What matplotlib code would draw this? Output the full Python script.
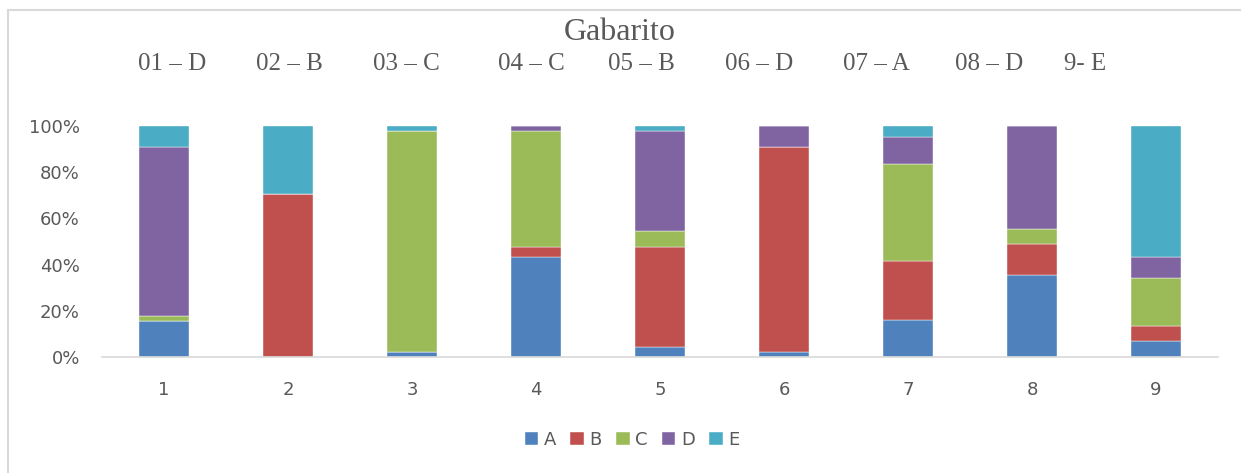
import matplotlib
matplotlib.use("Agg")
import matplotlib.pyplot as plt
import numpy as np
from matplotlib.patches import Rectangle
from matplotlib.ticker import PercentFormatter

questions = [1, 2, 3, 4, 5, 6, 7, 8, 9]
options = ["A", "B", "C", "D", "E"]

# share of answers per option (%)
resp_a = [15.6, 0.0, 2.2, 43.2, 4.5, 2.3, 16.0, 35.5, 6.8]
resp_b = [0.0, 70.7, 0.0, 4.5, 43.2, 88.6, 25.5, 13.3, 6.8]
resp_c = [2.2, 0.0, 95.6, 50.0, 6.8, 0.0, 42.2, 6.7, 20.4]
resp_d = [73.2, 0.0, 0.0, 2.3, 43.2, 9.1, 11.6, 44.5, 9.1]
resp_e = [9.0, 29.3, 2.2, 0.0, 2.3, 0.0, 4.7, 0.0, 56.9]

answer_key = ["01 – D", "02 – B", "03 – C", "04 – C", "05 – B",
              "06 – D", "07 – A", "08 – D", "9- E"]
key_x = [172, 289, 406, 531, 641, 759, 876, 989, 1085]

colors = ["#4F81BD", "#C0504D", "#9BBB59", "#8064A2", "#4BACC6"]
txt = "#595959"

W, H = 1241, 473
fig = plt.figure(figsize=(W / 100, H / 100), dpi=100)
fig.patch.set_facecolor("white")

# light frame around the chart area
fig.add_artist(Rectangle((8 / W, -0.05), 1.2, 1 - 10 / H + 0.05,
                         transform=fig.transFigure, fill=False,
                         edgecolor="#D9D9D9", linewidth=1.5))

ax = fig.add_axes([102 / W, 1 - 357 / H, (1218 - 102) / W, (357 - 126) / H])

series = [resp_a, resp_b, resp_c, resp_d, resp_e]
bottom = np.zeros(len(questions))
for name, vals, col in zip(options, series, colors):
    vals = np.array(vals)
    ax.bar(questions, vals, bottom=bottom, width=0.4, color=col,
           edgecolor="white", linewidth=0.3, label=name, zorder=2)
    bottom += vals

ax.set_xlim(0.5, 9.5)
ax.set_ylim(0, 100)
ax.set_xticks(questions)
ax.set_yticks(np.arange(0, 101, 20))
ax.yaxis.set_major_formatter(PercentFormatter(decimals=0))
for s in ["top", "right", "left"]:
    ax.spines[s].set_visible(False)
ax.spines["bottom"].set_color("#D9D9D9")
ax.spines["bottom"].set_linewidth(1.2)
ax.tick_params(axis="both", length=0, colors=txt, labelsize=13)
ax.tick_params(axis="x", pad=17)
ax.tick_params(axis="y", pad=16)

fig.text(620 / W, 1 - 32 / H, "Gabarito", ha="center", va="center",
         fontsize=23, color=txt, family="Liberation Serif")
for lab, x in zip(answer_key, key_x):
    fig.text(x / W, 1 - 64 / H, lab, ha="center", va="center",
             fontsize=18, color=txt, family="Liberation Serif")

fig.legend(loc="center", bbox_to_anchor=(632 / W, 1 - 440 / H), ncol=5,
           frameon=False, fontsize=13, labelcolor=txt, handlelength=0.75,
           handleheight=0.75, handletextpad=0.3, columnspacing=0.8)

fig.savefig("out.png", dpi=100, facecolor="white")
